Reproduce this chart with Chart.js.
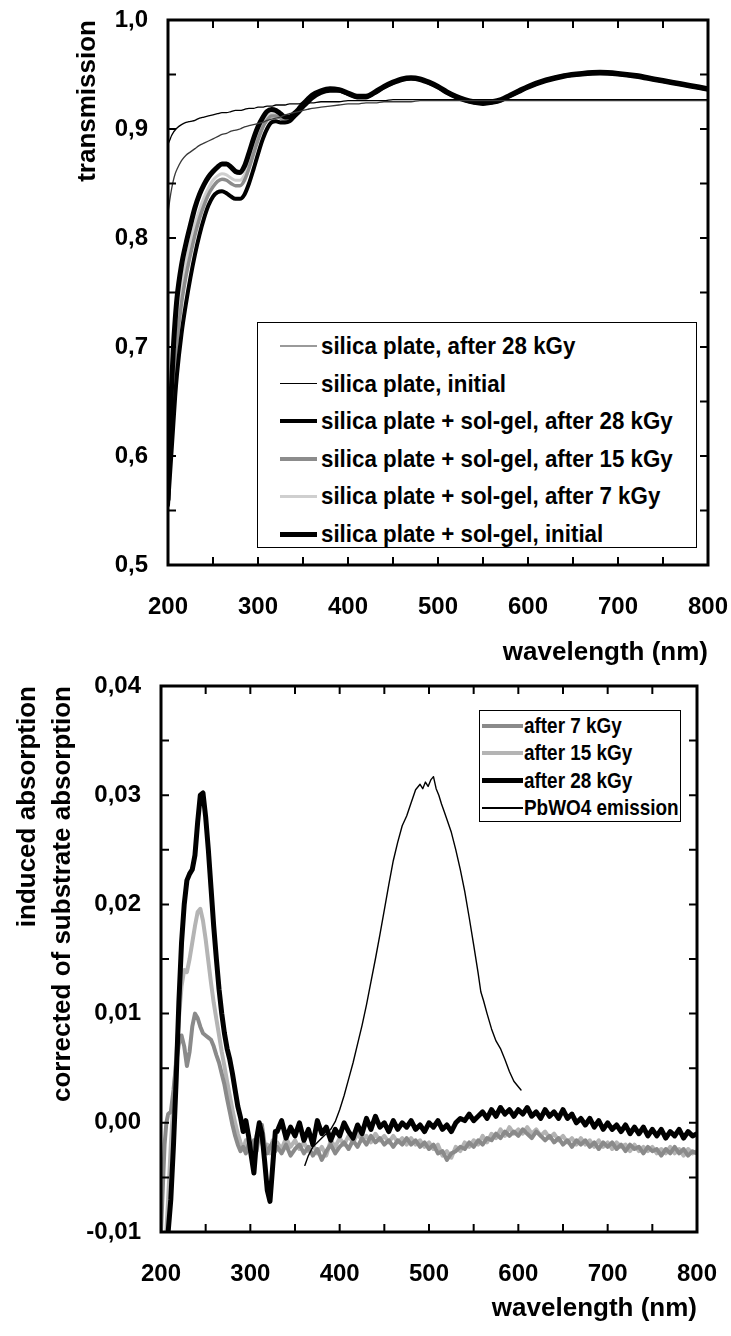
<!DOCTYPE html>
<html>
<head>
<meta charset="utf-8">
<script src="https://cdn.jsdelivr.net/npm/chart.js@4.4.1/dist/chart.umd.min.js"></script>
<style>
  body { margin: 0; background: #fff; }
  #page { position: relative; width: 731px; height: 1336px; overflow: hidden; background: #fff; }
  canvas { position: absolute; left: 0; }
  #topChart { top: 0; }
  #bottomChart { top: 666px; }
  .legend { position: absolute; border: 1.5px solid #000; background: #fff; box-sizing: border-box;
            font-family: 'Liberation Sans', Arial, sans-serif; font-weight: bold; color: #000; }
  .legend .sample { position: absolute; }
  .legend .txt { position: absolute; white-space: nowrap; transform-origin: left center; line-height: 1; }
  #topLegend { left: 257px; top: 322px; width: 440px; height: 226px; }
  #bottomLegend { left: 479px; top: 710px; width: 202px; height: 112px; }
</style>
</head>
<body>
<div id="page">
  <canvas id="topChart" width="731" height="680"></canvas>
  <canvas id="bottomChart" width="731" height="670"></canvas>
  <div id="topLegend" class="legend"></div>
  <div id="bottomLegend" class="legend"></div>
</div>
<script>
// ---- top panel : transmission ----
const topWave = [
  200, 202, 204, 206, 208, 210, 215, 220, 225, 230,
  235, 240, 245, 250, 255, 260, 265, 270, 275, 280,
  285, 290, 295, 300, 305, 310, 315, 320, 325, 330,
  335, 340, 345, 350, 355, 360, 370, 380, 390, 400,
  410, 420, 430, 440, 450, 460, 470, 480, 490, 500,
  510, 520, 530, 540, 550, 560, 570, 580, 590, 600,
  620, 640, 660, 680, 700, 720, 740, 760, 780, 800
];
const silicaAfter28 = [
  0.823, 0.835, 0.845, 0.853, 0.859, 0.863, 0.871, 0.876, 0.879, 0.882,
  0.885, 0.887, 0.889, 0.891, 0.893, 0.895, 0.896, 0.898, 0.899, 0.900,
  0.902, 0.903, 0.904, 0.905, 0.906, 0.908, 0.909, 0.910, 0.911, 0.913,
  0.914, 0.915, 0.916, 0.917, 0.918, 0.919, 0.920, 0.921, 0.922, 0.923,
  0.923, 0.924, 0.924, 0.925, 0.925, 0.925, 0.925, 0.926, 0.926, 0.926,
  0.926, 0.926, 0.926, 0.926, 0.926, 0.926, 0.926, 0.926, 0.926, 0.926,
  0.926, 0.926, 0.926, 0.926, 0.926, 0.926, 0.926, 0.926, 0.926, 0.926
];
const silicaInitial = [
  0.886, 0.890, 0.894, 0.897, 0.899, 0.901, 0.904, 0.906, 0.907, 0.908,
  0.910, 0.911, 0.912, 0.913, 0.914, 0.915, 0.915, 0.916, 0.917, 0.917,
  0.918, 0.919, 0.919, 0.920, 0.920, 0.921, 0.921, 0.922, 0.922, 0.922,
  0.923, 0.923, 0.923, 0.924, 0.924, 0.924, 0.925, 0.925, 0.925, 0.926,
  0.926, 0.926, 0.926, 0.926, 0.927, 0.927, 0.927, 0.927, 0.927, 0.927,
  0.927, 0.927, 0.927, 0.927, 0.927, 0.927, 0.927, 0.927, 0.927, 0.927,
  0.927, 0.927, 0.927, 0.927, 0.927, 0.927, 0.927, 0.927, 0.927, 0.927
];
const solgelAfter28 = [
  0.555, 0.580, 0.605, 0.630, 0.655, 0.675, 0.712, 0.740, 0.764, 0.785,
  0.803, 0.818, 0.830, 0.838, 0.842, 0.843, 0.841, 0.838, 0.836, 0.836,
  0.840, 0.850, 0.863, 0.877, 0.890, 0.900, 0.906, 0.907, 0.906, 0.906,
  0.907, 0.911, 0.915, 0.920, 0.924, 0.928, 0.933, 0.935, 0.935, 0.932,
  0.929, 0.929, 0.933, 0.938, 0.942, 0.945, 0.946, 0.945, 0.942, 0.938,
  0.933, 0.929, 0.926, 0.924, 0.923, 0.924, 0.926, 0.930, 0.934, 0.938,
  0.944, 0.948, 0.950, 0.951, 0.950, 0.948, 0.945, 0.942, 0.939, 0.936
];
const solgelAfter15 = [
  0.557, 0.595, 0.630, 0.660, 0.685, 0.705, 0.740, 0.765, 0.785, 0.803,
  0.818, 0.830, 0.840, 0.847, 0.852, 0.854, 0.853, 0.850, 0.848, 0.848,
  0.853, 0.864, 0.877, 0.890, 0.901, 0.908, 0.912, 0.912, 0.910, 0.908,
  0.909, 0.912, 0.917, 0.921, 0.925, 0.929, 0.934, 0.936, 0.935, 0.932,
  0.930, 0.930, 0.934, 0.939, 0.943, 0.946, 0.947, 0.946, 0.943, 0.939,
  0.934, 0.930, 0.927, 0.925, 0.924, 0.925, 0.927, 0.931, 0.935, 0.939,
  0.945, 0.949, 0.951, 0.952, 0.951, 0.949, 0.946, 0.943, 0.940, 0.937
];
const solgelAfter7 = [
  0.558, 0.605, 0.645, 0.678, 0.702, 0.722, 0.755, 0.778, 0.797, 0.813,
  0.826, 0.837, 0.846, 0.853, 0.857, 0.859, 0.858, 0.855, 0.853, 0.853,
  0.858, 0.870, 0.883, 0.895, 0.905, 0.911, 0.914, 0.914, 0.911, 0.909,
  0.910, 0.913, 0.917, 0.922, 0.926, 0.930, 0.934, 0.936, 0.935, 0.932,
  0.930, 0.930, 0.934, 0.939, 0.943, 0.946, 0.947, 0.946, 0.943, 0.939,
  0.934, 0.930, 0.927, 0.925, 0.924, 0.925, 0.927, 0.931, 0.935, 0.939,
  0.945, 0.949, 0.951, 0.952, 0.951, 0.949, 0.946, 0.943, 0.940, 0.937
];
const solgelInitial = [
  0.560, 0.620, 0.665, 0.700, 0.725, 0.745, 0.775, 0.795, 0.812, 0.828,
  0.840, 0.849, 0.856, 0.861, 0.865, 0.868, 0.868, 0.865, 0.861, 0.860,
  0.866, 0.878, 0.891, 0.902, 0.910, 0.916, 0.918, 0.917, 0.914, 0.911,
  0.911, 0.914, 0.918, 0.923, 0.927, 0.931, 0.935, 0.937, 0.936, 0.933,
  0.930, 0.930, 0.934, 0.939, 0.943, 0.946, 0.947, 0.946, 0.943, 0.939,
  0.934, 0.930, 0.927, 0.925, 0.924, 0.925, 0.927, 0.931, 0.935, 0.939,
  0.945, 0.949, 0.951, 0.952, 0.951, 0.949, 0.946, 0.943, 0.940, 0.937
];
const topLabels = [
  'silica plate, after 28 kGy',
  'silica plate, initial',
  'silica plate + sol-gel, after 28 kGy',
  'silica plate + sol-gel, after 15 kGy',
  'silica plate + sol-gel, after 7 kGy',
  'silica plate + sol-gel, initial'
];

// ---- bottom panel : induced absorption ----
const absWave = [
  200, 202, 204, 206, 208, 211, 214, 217, 220, 223,
  226, 229, 232, 235, 238, 241, 244, 247, 250, 253,
  256, 259, 262, 265, 268, 271, 274, 277, 280, 283,
  286, 289, 292, 295, 298, 301, 304, 307, 310, 313,
  316, 319, 322, 325, 328,
  330, 335, 340, 345, 350, 355, 360, 365, 370, 375,
  380, 385, 390, 395, 400, 405, 410, 415, 420, 425,
  430, 435, 440, 445, 450, 455, 460, 465, 470, 475,
  480, 485, 490, 495, 500, 505, 510, 515, 520, 525,
  530, 535, 540, 545, 550, 555, 560, 565, 570, 575,
  580, 585, 590, 595, 600, 605, 610, 615, 620, 625,
  630, 635, 640, 645, 650, 655, 660, 665, 670, 675,
  680, 685, 690, 695, 700, 705, 710, 715, 720, 725,
  730, 735, 740, 745, 750, 755, 760, 765, 770, 775,
  780, 785, 790, 795, 800
];
const abs7 = [
  -0.0100, -0.0060, -0.0020, 0.0000, 0.0008, 0.0010, 0.0030, 0.0055, 0.0072, 0.0080,
  0.0070, 0.0052, 0.0065, 0.0088, 0.0100, 0.0096, 0.0088, 0.0082, 0.0080, 0.0078,
  0.0076, 0.0070, 0.0062, 0.0055, 0.0045, 0.0035, 0.0022, 0.0010, -0.0002, -0.0012,
  -0.0020, -0.0026, -0.0022, -0.0028, -0.0020, -0.0024, -0.0016, -0.0026, -0.0010, -0.0002,
  -0.0020, -0.0028, -0.0022, -0.0018, -0.0026,
  -0.0022, -0.0028, -0.0020, -0.0030, -0.0024, -0.0020, -0.0028, -0.0022, -0.0030, -0.0024,
  -0.0034, -0.0026, -0.0020, -0.0028, -0.0022, -0.0018, -0.0024, -0.0016, -0.0022, -0.0014,
  -0.0020, -0.0012, -0.0018, -0.0014, -0.0020, -0.0016, -0.0022, -0.0016, -0.0020, -0.0014,
  -0.0020, -0.0016, -0.0022, -0.0018, -0.0024, -0.0020, -0.0028, -0.0026, -0.0034, -0.0028,
  -0.0026, -0.0022, -0.0024, -0.0018, -0.0022, -0.0016, -0.0020, -0.0014, -0.0016, -0.0010,
  -0.0014, -0.0008, -0.0012, -0.0008, -0.0012, -0.0006, -0.0010, -0.0014, -0.0008, -0.0012,
  -0.0016, -0.0012, -0.0018, -0.0014, -0.0020, -0.0016, -0.0022, -0.0016, -0.0020, -0.0016,
  -0.0022, -0.0018, -0.0024, -0.0018, -0.0022, -0.0018, -0.0024, -0.0020, -0.0026, -0.0020,
  -0.0024, -0.0022, -0.0028, -0.0022, -0.0026, -0.0024, -0.0030, -0.0024, -0.0028, -0.0022,
  -0.0028, -0.0024, -0.0030, -0.0026, -0.0028
];
const abs15 = [
  null, null, null, -0.0100, -0.0070, -0.0020, 0.0020, 0.0060, 0.0095, 0.0125,
  0.0140, 0.0138, 0.0150, 0.0165, 0.0180, 0.0193, 0.0196, 0.0185, 0.0168, 0.0148,
  0.0128, 0.0110, 0.0095, 0.0080, 0.0065, 0.0052, 0.0038, 0.0025, 0.0012, 0.0000,
  -0.0010, -0.0018, -0.0024, -0.0016, -0.0026, -0.0020, -0.0030, -0.0012, -0.0004, -0.0018,
  -0.0026, -0.0020, -0.0028, -0.0016, -0.0022,
  -0.0018, -0.0024, -0.0014, -0.0022, -0.0016, -0.0024, -0.0018, -0.0026, -0.0020, -0.0028,
  -0.0022, -0.0030, -0.0016, -0.0022, -0.0014, -0.0020, -0.0012, -0.0018, -0.0010, -0.0016,
  -0.0012, -0.0018, -0.0010, -0.0016, -0.0012, -0.0018, -0.0012, -0.0018, -0.0014, -0.0020,
  -0.0014, -0.0020, -0.0016, -0.0022, -0.0018, -0.0024, -0.0020, -0.0030, -0.0026, -0.0032,
  -0.0022, -0.0026, -0.0018, -0.0022, -0.0016, -0.0020, -0.0012, -0.0018, -0.0010, -0.0014,
  -0.0006, -0.0012, -0.0004, -0.0010, -0.0006, -0.0010, -0.0004, -0.0010, -0.0006, -0.0012,
  -0.0008, -0.0014, -0.0010, -0.0016, -0.0012, -0.0018, -0.0014, -0.0020, -0.0014, -0.0020,
  -0.0016, -0.0022, -0.0016, -0.0022, -0.0018, -0.0024, -0.0018, -0.0022, -0.0020, -0.0026,
  -0.0020, -0.0026, -0.0022, -0.0026, -0.0022, -0.0028, -0.0024, -0.0028, -0.0022, -0.0028,
  -0.0024, -0.0030, -0.0024, -0.0028, -0.0026
];
const abs28 = [
  null, null, null, null, -0.0100, -0.0070, -0.0020, 0.0040, 0.0110, 0.0165,
  0.0200, 0.0222, 0.0228, 0.0232, 0.0245, 0.0275, 0.0300, 0.0302, 0.0280, 0.0250,
  0.0215, 0.0180, 0.0150, 0.0122, 0.0100, 0.0082, 0.0068, 0.0058, 0.0045, 0.0030,
  0.0015, 0.0005, -0.0008, 0.0002, -0.0012, -0.0030, -0.0046, -0.0015, 0.0000, -0.0010,
  -0.0035, -0.0062, -0.0072, -0.0040, -0.0008,
  -0.0008, 0.0002, -0.0014, -0.0004, -0.0012, 0.0000, -0.0016, -0.0006, -0.0020, 0.0002,
  -0.0010, -0.0004, -0.0016, -0.0006, -0.0012, 0.0000, -0.0008, -0.0014, -0.0002, -0.0010,
  0.0004, -0.0006, 0.0006, -0.0004, 0.0000, -0.0008, 0.0002, -0.0006, 0.0000, -0.0004,
  0.0002, -0.0006, -0.0002, -0.0008, 0.0000, -0.0004, 0.0002, -0.0006, -0.0002, -0.0008,
  0.0000, 0.0004, 0.0002, 0.0008, 0.0002, 0.0006, 0.0010, 0.0004, 0.0012, 0.0006,
  0.0014, 0.0008, 0.0012, 0.0006, 0.0012, 0.0008, 0.0014, 0.0006, 0.0010, 0.0004,
  0.0012, 0.0006, 0.0010, 0.0004, 0.0012, 0.0004, 0.0008, 0.0000, 0.0004, -0.0002,
  0.0004, -0.0004, 0.0002, -0.0006, 0.0000, -0.0006, -0.0002, -0.0008, -0.0002, -0.0010,
  -0.0004, -0.0010, -0.0004, -0.0012, -0.0006, -0.0012, -0.0006, -0.0014, -0.0008, -0.0012,
  -0.0006, -0.0014, -0.0008, -0.0012, -0.0010
];
const pbWave = [
  361, 365, 370, 375, 380, 385, 390, 395, 400, 405,
  410, 415, 420, 425, 430, 435, 440, 445, 450, 455,
  460, 465, 470, 475, 480, 485, 490, 493, 496, 499,
  502, 505, 508, 511, 514, 517, 520, 525, 530, 535,
  540, 545, 550, 555, 558, 561, 565, 570, 575, 580,
  585, 590, 595, 600, 603
];
const pbEmission = [
  -0.0039, -0.0030, -0.0022, -0.0018, -0.0014, -0.0010, -0.0006, 0.0001, 0.0012, 0.0025,
  0.0040, 0.0055, 0.0072, 0.0089, 0.0108, 0.0129, 0.0150, 0.0172, 0.0195, 0.0218,
  0.0240, 0.0257, 0.0272, 0.0281, 0.0293, 0.0305, 0.0310, 0.0306, 0.0312, 0.0308,
  0.0314, 0.0317, 0.0306, 0.0300, 0.0292, 0.0285, 0.0278, 0.0266, 0.0250, 0.0232,
  0.0212, 0.0188, 0.0163, 0.0137, 0.0120, 0.0112, 0.0100, 0.0086, 0.0075, 0.0068,
  0.0058, 0.0047, 0.0038, 0.0033, 0.0030
];
const absLabels = ['after 7 kGy', 'after 15 kGy', 'after 28 kGy', 'PbWO4 emission'];

const FONT = "'Liberation Sans', Arial, sans-serif";

function pts(xs, ys) {
    return xs.map((x, i) => ({ x: x, y: ys[i] }));
}

// closed frame with inward ticks on all four sides
const frameTicks = {
    id: 'frameTicks',
    afterDatasetsDraw(chart, args, opts) {
        const { ctx, chartArea: a, scales: { x, y } } = chart;
        ctx.save();
        ctx.strokeStyle = '#000';
        ctx.lineWidth = 2;
        ctx.beginPath();
        for (let v = x.min; v <= x.max + 1e-9; v += opts.xStep) {
            const px = x.getPixelForValue(v);
            ctx.moveTo(px, a.bottom); ctx.lineTo(px, a.bottom - opts.len);
            ctx.moveTo(px, a.top); ctx.lineTo(px, a.top + opts.len);
        }
        for (let i = 0; y.min + i * opts.yStep <= y.max + 1e-9; i++) {
            const py = y.getPixelForValue(y.min + i * opts.yStep);
            ctx.moveTo(a.left, py); ctx.lineTo(a.left + opts.len, py);
            ctx.moveTo(a.right, py); ctx.lineTo(a.right - opts.len, py);
        }
        ctx.stroke();
        ctx.lineWidth = 3;
        ctx.strokeRect(a.left, a.top, a.right - a.left, a.bottom - a.top);
        ctx.restore();
    }
};

function panelOptions(cfg) {
    return {
        responsive: false,
        animation: false,
        events: [],
        layout: { padding: { top: 20, right: cfg.padRight, left: 0, bottom: 0 } },
        elements: { point: { radius: 0 }, line: { borderJoinStyle: 'round', borderCapStyle: 'round' } },
        plugins: {
            legend: { display: false },
            tooltip: { enabled: false },
            frameTicks: { xStep: 50, yStep: cfg.yMinor, len: 8 }
        },
        scales: {
            x: {
                type: 'linear',
                min: 200,
                max: 800,
                grid: { display: false, drawTicks: false },
                border: { display: false },
                ticks: {
                    stepSize: 100, autoSkip: false, maxRotation: 0, padding: 28, color: '#000',
                    font: { family: FONT, size: 24, weight: 'bold' }
                },
                title: {
                    display: true, text: 'wavelength (nm)', align: 'end', color: '#000',
                    font: { family: FONT, size: 26, weight: 'bold' },
                    padding: { top: 0, bottom: 12 }
                },
                afterFit: s => {
                    s.height = cfg.xHeight;
                    s.paddingLeft = 0;
                    s.paddingRight = 0;
                }
            },
            y: {
                type: 'linear',
                min: cfg.yMin,
                max: cfg.yMax,
                grid: { display: false, drawTicks: false },
                border: { display: false },
                ticks: {
                    stepSize: cfg.yStep, padding: 20, color: '#000',
                    font: { family: FONT, size: 24, weight: 'bold' },
                    callback: v => v.toFixed(cfg.digits).replace('.', ',')
                },
                title: {
                    display: true, text: cfg.yTitle, align: 'end', color: '#000',
                    font: { family: FONT, size: 26, weight: 'bold', lineHeight: 1.35 },
                    padding: { top: cfg.yTitlePad, bottom: 0 }
                },
                afterFit: s => {
                    s.width = cfg.yWidth;
                    s.paddingTop = 0;
                    s.paddingBottom = 0;
                }
            }
        }
    };
}

const topChart = new Chart(document.getElementById('topChart'), {
    type: 'line',
    data: {
        datasets: [
            { label: topLabels[0], data: pts(topWave, silicaAfter28), borderColor: '#3a3a3a', borderWidth: 1.3, legendColor: '#9a9a9a', order: 1 },
            { label: topLabels[1], data: pts(topWave, silicaInitial), borderColor: '#000', borderWidth: 1.3, order: 2 },
            { label: topLabels[2], data: pts(topWave, solgelAfter28), borderColor: '#000', borderWidth: 4, order: 4 },
            { label: topLabels[3], data: pts(topWave, solgelAfter15), borderColor: '#8c8c8c', borderWidth: 3.5, order: 5 },
            { label: topLabels[4], data: pts(topWave, solgelAfter7), borderColor: '#cfcfcf', borderWidth: 3, order: 6 },
            { label: topLabels[5], data: pts(topWave, solgelInitial), borderColor: '#000', borderWidth: 5, order: 3 }
        ].map(d => Object.assign({ cubicInterpolationMode: 'monotone', fill: false }, d))
    },
    options: panelOptions({
        yMin: 0.5, yMax: 1.0, yStep: 0.1, yMinor: 0.05, digits: 1,
        yWidth: 168, xHeight: 115, padRight: 23,
        yTitle: 'transmission', yTitlePad: 70
    }),
    plugins: [frameTicks]
});

const bottomChart = new Chart(document.getElementById('bottomChart'), {
    type: 'line',
    data: {
        datasets: [
            { label: absLabels[0], data: pts(absWave, abs7), borderColor: '#8a8a8a', borderWidth: 4, order: 4 },
            { label: absLabels[1], data: pts(absWave, abs15), borderColor: '#b4b4b4', borderWidth: 4, order: 5 },
            { label: absLabels[2], data: pts(absWave, abs28), borderColor: '#000', borderWidth: 5, order: 3 },
            { label: absLabels[3], data: pts(pbWave, pbEmission), borderColor: '#000', borderWidth: 1.4, order: 1 }
        ].map(d => Object.assign({ tension: 0, fill: false, spanGaps: false }, d))
    },
    options: panelOptions({
        yMin: -0.01, yMax: 0.04, yStep: 0.01, yMinor: 0.005, digits: 2,
        yWidth: 161, xHeight: 104, padRight: 34,
        yTitle: ['induced absorption', 'corrected of substrate absorption'], yTitlePad: 10
    }),
    plugins: [frameTicks]
});

// legends as html boxes, built from the chart datasets
function buildLegend(id, chart, lay) {
    const box = document.getElementById(id);
    chart.data.datasets.forEach((ds, i) => {
        const cy = lay.firstCenter + i * lay.spacing;
        const sample = document.createElement('div');
        sample.className = 'sample';
        const h = Math.max(ds.borderWidth, 1.5);
        sample.style.left = lay.sampleLeft + 'px';
        sample.style.width = lay.sampleLen + 'px';
        sample.style.height = h + 'px';
        sample.style.top = (cy - h / 2) + 'px';
        sample.style.background = ds.legendColor || ds.borderColor;
        box.appendChild(sample);

        const txt = document.createElement('div');
        txt.className = 'txt';
        txt.textContent = ds.label;
        txt.style.left = lay.textLeft + 'px';
        txt.style.fontSize = lay.fontSize + 'px';
        txt.style.top = (cy - lay.fontSize / 2) + 'px';
        txt.style.transform = 'scaleX(' + lay.squeeze + ')';
        box.appendChild(txt);
    });
}

buildLegend('topLegend', topChart, {
    firstCenter: 23, spacing: 37.6, sampleLeft: 22, sampleLen: 37, textLeft: 63, fontSize: 24, squeeze: 0.93
});
buildLegend('bottomLegend', bottomChart, {
    firstCenter: 15, spacing: 27.3, sampleLeft: 2, sampleLen: 41, textLeft: 44, fontSize: 22, squeeze: 0.86
});
</script>
</body>
</html>
